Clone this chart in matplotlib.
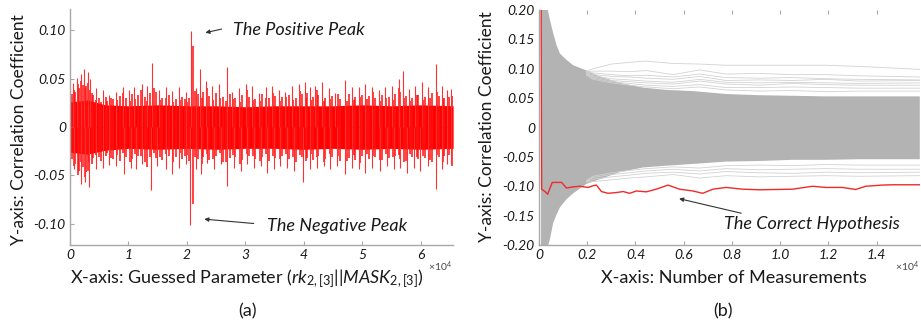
# Two correlation plots: (a) correlation vs guessed parameter, (b) correlation vs number of measurements
import numpy as np
from matplotlib import pyplot as plt

plt.rcParams['font.family'] = ['Lato', 'DejaVu Sans']
plt.rcParams['mathtext.fontset'] = 'custom'
plt.rcParams['mathtext.rm'] = 'Lato'
plt.rcParams['mathtext.it'] = 'Lato:italic'

# ---- panel (a): spike extremes ----
up_x = [57, 569, 1138, 1877, 2446, 3015, 3413, 4437, 5574, 6712, 7849, 9101, 10125, 10978,
        12400, 13253, 14106, 15244, 16382, 17519, 18657, 19795, 20761, 21501, 22240, 23207,
        24345, 25482, 26847, 27757, 28895, 30033, 31170, 32308, 33446, 34583, 35721, 36858,
        37996, 39134, 40158, 41125, 41978, 43115, 44253, 45391, 47097, 48235, 49372, 50510,
        51648, 52785, 53923, 55061, 56198, 56881, 57905, 59044, 60181, 61319, 62684, 63594,
        64447, 65186]
up_y = [0.040, 0.0456, 0.051, 0.055, 0.060, 0.057, 0.050, 0.040, 0.038, 0.033, 0.036, 0.0415,
        0.038, 0.0415, 0.045, 0.042, 0.066, 0.038, 0.0415, 0.0375, 0.041, 0.036, 0.099, 0.040,
        0.060, 0.048, 0.043, 0.045, 0.062, 0.036, 0.040, 0.045, 0.043, 0.035, 0.041, 0.042,
        0.038, 0.036, 0.042, 0.045, 0.0466, 0.041, 0.043, 0.0466, 0.040, 0.035, 0.049, 0.0415,
        0.041, 0.045, 0.0415, 0.038, 0.041, 0.043, 0.050, 0.0585, 0.039, 0.042, 0.0466, 0.041,
        0.065, 0.043, 0.038, 0.039]
lo_x = [57, 739, 1877, 2617, 3299, 4437, 5574, 6712, 7849, 9271, 10409, 11262, 12400, 13822,
        14959, 16382, 17519, 18657, 19795, 20591, 21501, 22354, 23491, 24629, 25767, 26904,
        28042, 29180, 30317, 31455, 32592, 33730, 34868, 36005, 37143, 38281, 39817, 41125,
        42263, 43400, 44538, 45676, 47097, 48235, 49372, 50510, 51648, 53070, 54208, 55346,
        56484, 57621, 58759, 59897, 61319, 62570, 63594, 64447, 65186]
lo_y = [-0.038, -0.0435, -0.059, -0.0565, -0.062, -0.0435, -0.042, -0.039, -0.040, -0.0486,
        -0.042, -0.0435, -0.038, -0.0656, -0.040, -0.0435, -0.0486, -0.042, -0.038, -0.101,
        -0.0435, -0.0486, -0.037, -0.0435, -0.038, -0.0605, -0.042, -0.045, -0.038, -0.042,
        -0.040, -0.047, -0.0435, -0.040, -0.042, -0.045, -0.057, -0.0435, -0.042, -0.040,
        -0.0435, -0.040, -0.0486, -0.042, -0.0435, -0.047, -0.042, -0.045, -0.040, -0.0435,
        -0.042, -0.047, -0.042, -0.045, -0.040, -0.064, -0.0435, -0.038, -0.037]
# smaller spikes in between the big ones
mid_x = [300, 850, 1500, 2150, 2750, 3200, 3900, 5000, 6100, 7300, 8500, 9600, 10550, 11700,
         12800, 13700, 14700, 15800, 16900, 18100, 19200, 20300, 21100, 21900, 22700, 23800,
         24900, 26100, 27300, 28300, 29500, 30600, 31700, 32900, 34000, 35100, 36300, 37400,
         38600, 39600, 40600, 41500, 42500, 43700, 44800, 46200, 47700, 48800, 49900, 51100,
         52200, 53300, 54500, 55600, 56500, 57400, 58500, 59600, 60700, 62000, 63100, 64000,
         64800]
mid_hi = [0.034, 0.036, 0.040, 0.044, 0.042, 0.038, 0.033, 0.030, 0.031, 0.029, 0.032, 0.030,
          0.034, 0.033, 0.031, 0.035, 0.036, 0.030, 0.033, 0.029, 0.031, 0.030, 0.084, 0.034,
          0.036, 0.032, 0.035, 0.031, 0.034, 0.030, 0.033, 0.031, 0.029, 0.034, 0.030, 0.032,
          0.031, 0.033, 0.030, 0.034, 0.035, 0.031, 0.033, 0.030, 0.032, 0.029, 0.034, 0.031,
          0.033, 0.032, 0.030, 0.033, 0.031, 0.034, 0.036, 0.032, 0.030, 0.033, 0.031, 0.035,
          0.032, 0.030, 0.031]
mid_lo = [-0.033, -0.038, -0.045, -0.041, -0.046, -0.036, -0.032, -0.031, -0.030, -0.033,
          -0.035, -0.031, -0.033, -0.030, -0.036, -0.031, -0.032, -0.034, -0.030, -0.031,
          -0.033, -0.035, -0.080, -0.033, -0.031, -0.034, -0.030, -0.036, -0.032, -0.031,
          -0.034, -0.030, -0.033, -0.031, -0.035, -0.032, -0.030, -0.033, -0.036, -0.031,
          -0.032, -0.034, -0.030, -0.033, -0.031, -0.035, -0.032, -0.034, -0.030, -0.033,
          -0.031, -0.034, -0.032, -0.030, -0.033, -0.035, -0.031, -0.033, -0.032, -0.036,
          -0.031, -0.030, -0.029]
small_x = [650, 1300, 1800, 2500, 3100, 3700, 4400, 5300, 6400, 7000, 8100, 9000, 10300,
           11100, 12100, 13100, 14300, 15400, 16500, 17700, 18800, 19600, 20000, 21300, 22500,
           23400, 24500, 25600, 26700, 27900, 29000, 30200, 31300, 32500, 33600, 34700, 35900,
           37000, 38200, 39300, 40300, 41200, 42200, 43400, 44400, 45800, 47300, 48500, 49600,
           50800, 51900, 53000, 54100, 55300, 56200, 57200, 58200, 59300, 60400, 61600, 62800,
           63800, 65400]
small_hi = [0.038, 0.045, 0.048, 0.040, 0.046, 0.035, 0.028, 0.026, 0.027, 0.030, 0.028,
            0.035, 0.027, 0.029, 0.038, 0.027, 0.040, 0.028, 0.030, 0.026, 0.028, 0.029, 0.026,
            0.037, 0.030, 0.040, 0.028, 0.030, 0.027, 0.029, 0.026, 0.038, 0.028, 0.027, 0.030,
            0.035, 0.027, 0.031, 0.028, 0.037, 0.030, 0.028, 0.038, 0.027, 0.029, 0.034, 0.027,
            0.028, 0.031, 0.029, 0.036, 0.027, 0.030, 0.028, 0.040, 0.030, 0.027, 0.033, 0.028,
            0.030, 0.036, 0.029, 0.032]
small_lo = [-0.040, -0.050, -0.036, -0.052, -0.045, -0.038, -0.029, -0.035, -0.027, -0.032,
            -0.029, -0.027, -0.036, -0.028, -0.030, -0.041, -0.027, -0.031, -0.028, -0.036,
            -0.027, -0.030, -0.029, -0.031, -0.038, -0.028, -0.033, -0.027, -0.036, -0.029,
            -0.038, -0.028, -0.030, -0.035, -0.028, -0.030, -0.033, -0.028, -0.031, -0.029,
            -0.035, -0.028, -0.031, -0.036, -0.028, -0.030, -0.035, -0.029, -0.037, -0.028,
            -0.030, -0.034, -0.028, -0.031, -0.029, -0.036, -0.028, -0.031, -0.030, -0.034,
            -0.029, -0.036, -0.040]
core_x = [0, 3000, 6000, 10000, 15000, 20000, 25000, 30000, 35000, 40000, 45000, 50000,
          55000, 60000, 65536]
core_hi = [0.026, 0.028, 0.023, 0.022, 0.023, 0.022, 0.022, 0.021, 0.022, 0.022, 0.022,
           0.023, 0.022, 0.023, 0.022]
core_lo = [-0.026, -0.028, -0.024, -0.022, -0.023, -0.022, -0.023, -0.022, -0.022, -0.023,
           -0.022, -0.023, -0.022, -0.023, -0.022]

# ---- panel (b): envelope of the wrong hypotheses and the correct one ----
band_x = [83, 317, 455, 593, 731, 868, 1144, 1419, 1970, 2522, 3349, 4313, 5278, 6380,
          7758, 9136, 10514, 11892, 13270, 15792]
band_hi = [0.5, 0.21, 0.183, 0.160, 0.140, 0.126, 0.115, 0.106, 0.097, 0.087, 0.076, 0.068,
           0.064, 0.062, 0.057, 0.055, 0.054, 0.053, 0.053, 0.053]
band_lo = [-0.5, -0.21, -0.19, -0.162, -0.148, -0.136, -0.122, -0.112, -0.096, -0.088, -0.076,
           -0.068, -0.065, -0.062, -0.058, -0.057, -0.055, -0.055, -0.054, -0.054]
out_x = [1970, 2250, 3000, 3760, 4450, 5560, 6660, 7760, 9140, 10510, 11890, 13270, 15790]
out_lines = [
    [0.096, 0.100, 0.108, 0.111, 0.113, 0.109, 0.108, 0.106, 0.106, 0.106, 0.106, 0.104, 0.099],
    [0.095, 0.096, 0.096, 0.095, 0.097, 0.090, 0.098, 0.091, 0.092, 0.090, 0.090, 0.088, 0.086],
    [0.094, 0.093, 0.090, 0.088, 0.089, 0.086, 0.091, 0.085, 0.084, 0.085, 0.083, 0.082, 0.081],
    [0.093, 0.090, 0.087, 0.086, 0.084, 0.082, 0.087, 0.080, 0.081, 0.080, 0.082, 0.079, 0.080],
    [0.092, 0.088, 0.083, 0.081, 0.079, 0.077, 0.082, 0.077, 0.076, 0.077, 0.076, 0.075, 0.076],
    [0.091, 0.086, 0.080, 0.078, 0.076, 0.074, 0.079, 0.074, 0.072, 0.075, 0.073, 0.072, 0.072],
    [0.090, 0.084, 0.078, 0.075, 0.072, 0.070, 0.073, 0.068, 0.068, 0.069, 0.068, 0.067, 0.067],
    [0.089, 0.082, 0.076, 0.072, 0.069, 0.066, 0.069, 0.064, 0.062, 0.063, 0.061, 0.062, 0.062],
    [-0.093, -0.092, -0.089, -0.086, -0.084, -0.080, -0.086, -0.082, -0.084, -0.083, -0.082,
     -0.083, -0.082],
    [-0.092, -0.088, -0.084, -0.081, -0.078, -0.076, -0.079, -0.075, -0.077, -0.078, -0.076,
     -0.077, -0.076],
    [-0.091, -0.085, -0.080, -0.077, -0.074, -0.071, -0.074, -0.070, -0.072, -0.071, -0.070,
     -0.071, -0.071],
    [-0.090, -0.083, -0.077, -0.073, -0.070, -0.067, -0.069, -0.065, -0.064, -0.065, -0.063,
     -0.064, -0.064],
]
red_x = [60, 110, 250, 360, 550, 760, 940, 1140, 1420, 1700, 2040, 2250, 2380, 2590, 2870,
         3210, 3490, 3760, 4040, 4450, 4860, 5350, 5830, 6380, 6790, 7210, 7760, 8450, 9140,
         9830, 10510, 11340, 11890, 12580, 13130, 13550, 14240, 14650, 15790]
red_y = [0.6, -0.105, -0.109, -0.1135, -0.0935, -0.0935, -0.0935, -0.103, -0.101, -0.100,
         -0.102, -0.099, -0.098, -0.109, -0.112, -0.1107, -0.109, -0.112, -0.108, -0.1095,
         -0.105, -0.098, -0.105, -0.108, -0.112, -0.105, -0.102, -0.105, -0.106, -0.1055,
         -0.105, -0.100, -0.102, -0.102, -0.1055, -0.100, -0.098, -0.0975, -0.0975]

a_ticks = [0, 10000, 20000, 30000, 40000, 50000, 60000]
a_tick_labels = ['0', '1', '2', '3', '4', '5', '6']
a_yticks = [0.10, 0.05, 0, -0.05, -0.10]
a_ytick_labels = ['0.10', '0.05', '0', '-0.05', '-0.10']
b_ticks = [0, 2000, 4000, 6000, 8000, 10000, 12000, 14000]
b_tick_labels = ['0', '0.2', '0.4', '0.6', '0.8', '1.0', '1.2', '1.4']
b_yticks = [0.20, 0.15, 0.10, 0.05, 0, -0.05, -0.10, -0.15, -0.20]
b_ytick_labels = ['0.20', '0.15', '0.10', '0.05', '0', '-0.05', '-0.10', '-0.15', '-0.20']

SPINE = '#a8a8a8'
TXT = '#1a1a1a'


def style_axes(ax):
    for s in ['top', 'right']:
        ax.spines[s].set_visible(False)
    for s in ['left', 'bottom']:
        ax.spines[s].set_color(SPINE)
        ax.spines[s].set_linewidth(1.0)
    ax.tick_params(direction='in', length=3, width=0.8, color=SPINE, labelcolor=TXT,
                   labelsize=10, pad=3)
    for lab in ax.get_xticklabels() + ax.get_yticklabels():
        lab.set_fontstyle('italic')


fig = plt.figure(figsize=(9.21, 3.24), dpi=100)

# (a)
ax1 = fig.add_axes([0.076, 0.2438, 0.416, 0.728])
ax1.fill_between(core_x, core_lo, core_hi, color='#ff0000', lw=0)
ax1.vlines(small_x, small_lo, small_hi, color='#ff1010', lw=1.1)
ax1.vlines(mid_x, mid_lo, mid_hi, color='#ff1010', lw=1.1)
ax1.vlines(up_x, 0, up_y, color='#ff3030', lw=0.8)
ax1.vlines(lo_x, lo_y, 0, color='#ff3030', lw=0.8)
ax1.set_xlim(0, 65536)
ax1.set_ylim(-0.122, 0.122)
ax1.set_xticks(a_ticks)
ax1.set_xticklabels(a_tick_labels)
ax1.set_yticks(a_yticks)
ax1.set_yticklabels(a_ytick_labels)
style_axes(ax1)
ax1.annotate('', xy=(22700, 0.097), xytext=(26400, 0.102),
             arrowprops=dict(arrowstyle='-|>', color='#333333', lw=0.8, mutation_scale=6))
ax1.text(27800, 0.100, 'The Positive Peak', fontsize=13, style='italic', color=TXT,
         va='center', ha='left')
ax1.annotate('', xy=(22500, -0.095), xytext=(31900, -0.100),
             arrowprops=dict(arrowstyle='-|>', color='#333333', lw=0.8, mutation_scale=6))
ax1.text(33700, -0.102, 'The Negative Peak', fontsize=13, style='italic', color=TXT,
         va='center', ha='left')

# (b)
ax2 = fig.add_axes([0.5852, 0.2438, 0.4137, 0.7253])
for ys in out_lines:
    ax2.plot(out_x, ys, color='#d2d2d2', lw=0.6)
ax2.fill_between(band_x, band_lo, band_hi, color='#b3b3b3', lw=0)
ax2.plot(red_x, red_y, color='#ee2a2a', lw=1.0)
ax2.set_xlim(0, 15800)
ax2.set_ylim(-0.20, 0.20)
ax2.set_xticks(b_ticks)
ax2.set_xticklabels(b_tick_labels)
ax2.set_yticks(b_yticks)
ax2.set_yticklabels(b_ytick_labels)
style_axes(ax2)
ax2.tick_params(top=True, left=False)
ax2.annotate('', xy=(5700, -0.120), xytext=(8500, -0.147),
             arrowprops=dict(arrowstyle='-|>', color='#333333', lw=0.8, mutation_scale=6))
ax2.text(7690, -0.164, 'The Correct Hypothesis', fontsize=13, style='italic', color=TXT,
         va='center', ha='left')

# labels
fig.text(0.268, 0.139, r'X-axis: Guessed Parameter ($\mathit{rk_{2,[3]}||MASK_{2,[3]}}$)',
         fontsize=13, color=TXT, ha='center', va='center')
fig.text(0.797, 0.142, 'X-axis: Number of Measurements', fontsize=13, color=TXT,
         ha='center', va='center')
fig.text(0.021, 0.599, 'Y-axis: Correlation Coefficient', fontsize=12.5, color=TXT,
         ha='center', va='center', rotation=90)
fig.text(0.529, 0.608, 'Y-axis: Correlation Coefficient', fontsize=12.5, color=TXT,
         ha='center', va='center', rotation=90)
fig.text(0.465, 0.176, r'$\times10^4$', fontsize=7.5, color='#444444', ha='left', va='center')
fig.text(0.972, 0.176, r'$\times10^4$', fontsize=7.5, color='#444444', ha='left', va='center')
fig.text(0.269, 0.040, '(a)', fontsize=13, color=TXT, ha='center', va='center')
fig.text(0.785, 0.040, '(b)', fontsize=13, color=TXT, ha='center', va='center')

fig.savefig('out.png', dpi=100)
